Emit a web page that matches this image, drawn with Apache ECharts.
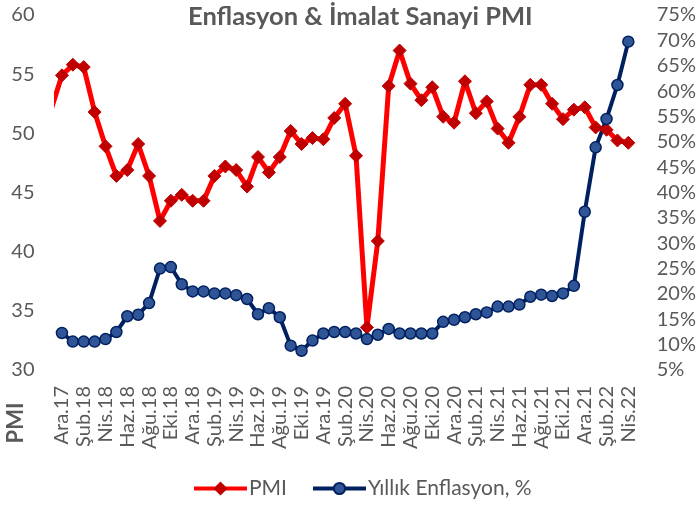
<!DOCTYPE html>
<html>
<head>
<meta charset="utf-8">
<title>Enflasyon & İmalat Sanayi PMI</title>
<script src="https://cdn.jsdelivr.net/npm/echarts@6/dist/echarts.min.js"></script>
<style>
html, body { margin: 0; padding: 0; background: #fff; }
#chart { width: 699px; height: 508px; }
</style>
</head>
<body>
<div id="chart"></div>
<script>
// aylar: Ara.17 - Nis.22
var months = [
	'Ara.17',
	'Oca.18', 'Şub.18', 'Mar.18', 'Nis.18', 'May.18', 'Haz.18', 'Tem.18', 'Ağu.18', 'Eyl.18', 'Eki.18', 'Kas.18', 'Ara.18',
	'Oca.19', 'Şub.19', 'Mar.19', 'Nis.19', 'May.19', 'Haz.19', 'Tem.19', 'Ağu.19', 'Eyl.19', 'Eki.19', 'Kas.19', 'Ara.19',
	'Oca.20', 'Şub.20', 'Mar.20', 'Nis.20', 'May.20', 'Haz.20', 'Tem.20', 'Ağu.20', 'Eyl.20', 'Eki.20', 'Kas.20', 'Ara.20',
	'Oca.21', 'Şub.21', 'Mar.21', 'Nis.21', 'May.21', 'Haz.21', 'Tem.21', 'Ağu.21', 'Eyl.21', 'Eki.21', 'Kas.21', 'Ara.21',
	'Oca.22', 'Şub.22', 'Mar.22', 'Nis.22'
];

// Kas.17 PMI, only the clipped segment at the left edge shows
var pmiPrev = 52.0;

var pmi = [
	54.9,
	55.8, 55.6, 51.8, 48.9, 46.4, 46.9, 49.1, 46.4, 42.6, 44.3, 44.8, 44.3,
	44.3, 46.4, 47.2, 46.9, 45.5, 48.0, 46.7, 48.0, 50.2, 49.1, 49.6, 49.5,
	51.3, 52.5, 48.1, 33.6, 40.9, 54.0, 57.0, 54.2, 52.8, 53.9, 51.4, 50.9,
	54.4, 51.7, 52.7, 50.4, 49.2, 51.4, 54.1, 54.1, 52.5, 51.2, 52.0, 52.2,
	50.5, 50.3, 49.4, 49.2
];

var enflasyon = [
	12.3,
	10.6, 10.6, 10.6, 11.1, 12.5, 15.6, 15.9, 18.2, 25.0, 25.3, 21.9, 20.5,
	20.5, 20.1, 20.1, 19.75, 19.0, 16.0, 17.2, 15.4, 9.8, 8.8, 10.8, 12.2,
	12.5, 12.5, 12.2, 11.1, 11.95, 13.1, 12.2, 12.2, 12.2, 12.2, 14.5, 14.9,
	15.4, 16.0, 16.35, 17.5, 17.5, 17.9, 19.45, 19.85, 19.6, 20.1, 21.6, 36.2,
	48.9, 54.5, 61.2, 69.75
];

var FONT = 'Lato';
var GREY = '#595959';

function toPairs(arr) {
	var out = [];
	for (var i = 0; i < arr.length; i++) {
		out.push([i, arr[i]]);
	}
	return out;
}

// every second month gets a label
var labelIdx = [];
for (var k = 0; k < months.length; k += 2) {
	labelIdx.push(k);
}

var chart = echarts.init(document.getElementById('chart'));

chart.setOption({
	animation: false,
	textStyle: { fontFamily: FONT },
	title: {
		text: 'Enflasyon & İmalat Sanayi PMI',
		left: 183,
		top: -1,
		textStyle: { fontFamily: FONT, fontSize: 25.5, fontWeight: 'bold', color: GREY }
	},
	grid: { left: 56.5, right: 59.5, top: 15, bottom: 138 },
	legend: {
		data: ['PMI', 'Yıllık Enflasyon, %'],
		left: 187,
		bottom: 4,
		itemWidth: 53,
		itemHeight: 14,
		itemGap: 24,
		lineStyle: { width: 4 },
		textStyle: { fontFamily: FONT, fontSize: 21, color: GREY, padding: [0, 0, 0, -3] }
	},
	xAxis: {
		type: 'value',
		min: -0.5,
		max: months.length - 0.5,
		axisLine: { show: false },
		axisTick: { show: false },
		splitLine: { show: false },
		axisLabel: {
			customValues: labelIdx,
			rotate: 90,
			margin: 16,
			fontFamily: FONT,
			fontSize: 20,
			color: GREY,
			formatter: function (v) {
				return months[Math.round(v)] || '';
			}
		}
	},
	yAxis: [{
		type: 'value',
		min: 30,
		max: 60,
		interval: 5,
		axisLine: { show: false },
		axisTick: { show: false },
		splitLine: { show: false },
		axisLabel: { margin: 22, fontFamily: FONT, fontSize: 20, color: GREY }
	}, {
		type: 'value',
		min: 5,
		max: 75,
		interval: 5,
		axisLine: { show: false },
		axisTick: { show: false },
		splitLine: { show: false },
		axisLabel: { margin: 23, fontFamily: FONT, fontSize: 20, color: GREY, formatter: '{value}%' }
	}],
	graphic: [{
		type: 'text',
		x: 16,
		y: 423,
		rotation: Math.PI / 2,
		style: {
			text: 'PMI',
			align: 'center',
			verticalAlign: 'middle',
			font: 'bold 22px ' + FONT,
			fill: GREY
		}
	}],
	series: [{
		name: 'PMI',
		type: 'line',
		yAxisIndex: 0,
		data: [[-1, pmiPrev]].concat(toPairs(pmi)),
		clip: true,
		symbol: 'diamond',
		symbolSize: 13,
		lineStyle: { color: '#FF0000', width: 5 },
		itemStyle: { color: '#C00000', borderColor: '#C00000', borderWidth: 1 }
	}, {
		name: 'Yıllık Enflasyon, %',
		type: 'line',
		yAxisIndex: 1,
		data: toPairs(enflasyon),
		clip: true,
		symbol: 'circle',
		symbolSize: 11,
		lineStyle: { color: '#002060', width: 4 },
		itemStyle: { color: '#2F5597', borderColor: '#002060', borderWidth: 1.5 }
	}]
});
</script>
</body>
</html>
